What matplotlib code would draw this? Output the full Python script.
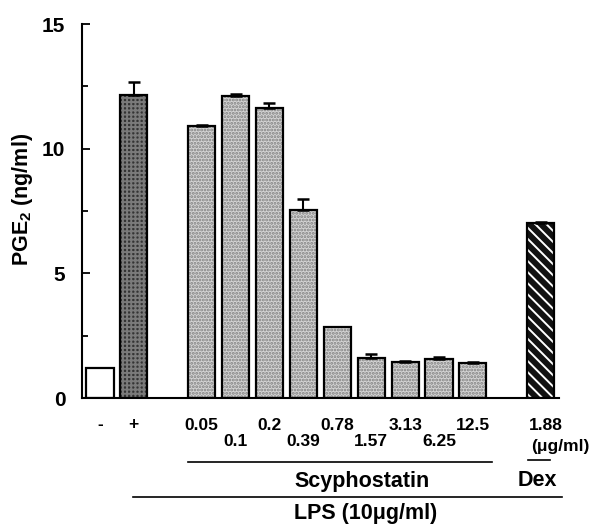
import numpy as np
import matplotlib
matplotlib.use('Agg')
import matplotlib.pyplot as plt
from matplotlib.transforms import blended_transform_factory

FONT = 'Liberation Sans'
plt.rcParams.update({
    'font.family': FONT, 'font.weight': 'bold',
    'mathtext.fontset': 'custom', 'mathtext.rm': FONT + ':bold',
    'mathtext.it': FONT + ':bold', 'mathtext.bf': FONT + ':bold',
    'hatch.linewidth': 1.4,
})

# data (PGE2, ng/ml)
conds = ['-', '+', '0.05', '0.1', '0.2', '0.39', '0.78', '1.57', '3.13', '6.25', '12.5', '1.88']
pos = [0, 1, 3, 4, 5, 6, 7, 8, 9, 10, 11, 13]
vals = [1.2, 12.15, 10.9, 12.12, 11.65, 7.56, 2.85, 1.6, 1.45, 1.56, 1.4, 7.0]
errs = [0.0, 0.53, 0.05, 0.08, 0.2, 0.41, 0.0, 0.16, 0.03, 0.08, 0.06, 0.05]
groups = ['ctrl', 'lps', 'scy', 'scy', 'scy', 'scy', 'scy', 'scy', 'scy', 'scy', 'scy', 'dex']

# fill, hatch, hatch colour per group
style = {'ctrl': ('white', '', 'white'),
         'lps': ('#333333', '++++', '#7a7a7a'),
         'scy': ('#d4d4d4', '.....', '#808080'),
         'dex': ('#111111', '\\\\\\', 'white')}

fig = plt.figure(figsize=(5.95, 5.32), dpi=100)
ax = fig.add_axes([82/595, 1-398/532, 477/595, 374/532])

for g in style:
    idx = [i for i, gg in enumerate(groups) if gg == g]
    fc, h, hc = style[g]
    ax.bar([pos[i] for i in idx], [vals[i] for i in idx], width=0.8,
           color=fc, hatch=h, edgecolor=hc, linewidth=0, zorder=2)
ax.bar(pos, vals, width=0.8, fill=False, edgecolor='black', linewidth=1.6, zorder=3)

ep = [(p, v, e) for p, v, e in zip(pos, vals, errs) if e > 0]
ax.errorbar([p for p, _, _ in ep], [v for _, v, _ in ep],
            yerr=[np.zeros(len(ep)), [e for _, _, e in ep]],
            fmt='none', ecolor='black', elinewidth=1.5, capsize=4.5, capthick=1.8, zorder=4)

ax.set_xlim(-0.53, 13.54); ax.set_ylim(0, 15)
for s in ['top', 'right']: ax.spines[s].set_visible(False)
ax.spines['left'].set_linewidth(1.5); ax.spines['bottom'].set_linewidth(1.5)
ax.set_yticks([0, 5, 10, 15]); ax.set_yticks([2.5, 7.5, 12.5], minor=True)
ax.tick_params(axis='y', which='both', direction='in', width=1.3, pad=12, labelsize=15)
ax.tick_params(axis='y', which='major', length=6)
ax.tick_params(axis='y', which='minor', length=4)
ax.set_xticks([])

fig.text(0.038, 0.625, 'PGE$_{2}$ (ng/ml)', rotation=90, ha='center', va='center', fontsize=15.5)

tr = blended_transform_factory(ax.transData, fig.transFigure)
for i, (p, c) in enumerate(zip(pos, conds)):
    if c == '1.88':
        ax.text(p + 0.15, 1-425/532, c, transform=tr, ha='center', va='center', fontsize=12.5)
        continue
    row = 1 if conds[i] in ['0.1', '0.39', '1.57', '6.25'] else 0
    y = 1-(425 + 16*row)/532
    ax.text(p, y, c, transform=tr, ha='center', va='center', fontsize=12.5)
ax.text(13.57, 1-447/532, '(\u03bcg/ml)', transform=tr, ha='center', va='center', fontsize=12.5)

# group lines and labels
ax.plot([2.6, 11.56], [1-462/532]*2, transform=tr, color='black', lw=1.2, clip_on=False)
ax.plot([12.63, 13.27], [1-459.5/532]*2, transform=tr, color='black', lw=1.2, clip_on=False)
ax.plot([0.97, 13.63], [1-497/532]*2, transform=tr, color='black', lw=1.2, clip_on=False)
ax.text(7.73, 1-481/532, 'Scyphostatin', transform=tr, ha='center', va='center', fontsize=15.5)
ax.text(12.9, 1-481/532, 'Dex', transform=tr, ha='center', va='center', fontsize=15.5)
ax.text(7.83, 1-514/532, 'LPS (10\u03bcg/ml)', transform=tr, ha='center', va='center', fontsize=15.5)

fig.savefig('out.png', dpi=100, facecolor='white')
